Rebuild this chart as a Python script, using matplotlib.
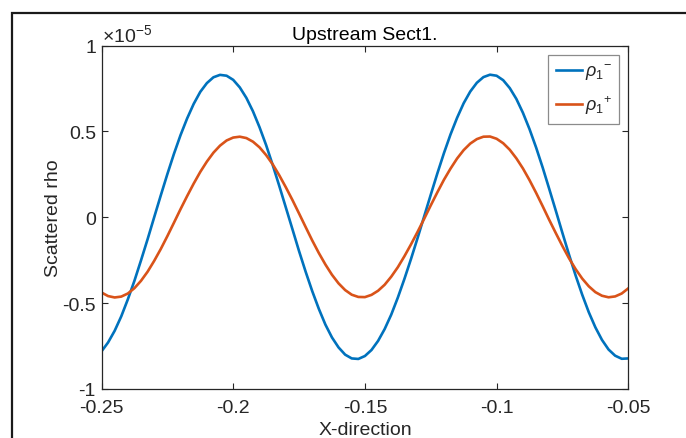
import matplotlib
matplotlib.use("Agg")
import matplotlib.pyplot as plt
from matplotlib.patches import Rectangle
import numpy as np

# ---------------- data ----------------
x_vals = [-0.25, -0.2475, -0.245, -0.2425, -0.24, -0.2375, -0.235, -0.2325, -0.23, -0.2275,
          -0.225, -0.2225, -0.22, -0.2175, -0.215, -0.2125, -0.21, -0.2075, -0.205, -0.2025,
          -0.2, -0.1975, -0.195, -0.1925, -0.19, -0.1875, -0.185, -0.1825, -0.18, -0.1775,
          -0.175, -0.1725, -0.17, -0.1675, -0.165, -0.1625, -0.16, -0.1575, -0.155, -0.1525,
          -0.15, -0.1475, -0.145, -0.1425, -0.14, -0.1375, -0.135, -0.1325, -0.13, -0.1275,
          -0.125, -0.1225, -0.12, -0.1175, -0.115, -0.1125, -0.11, -0.1075, -0.105, -0.1025,
          -0.1, -0.0975, -0.095, -0.0925, -0.09, -0.0875, -0.085, -0.0825, -0.08, -0.0775,
          -0.075, -0.0725, -0.07, -0.0675, -0.065, -0.0625, -0.06, -0.0575, -0.055, -0.0525,
          -0.05]

# values in units of 1e-5
rho_minus = [-0.781, -0.729, -0.661, -0.577, -0.478, -0.370, -0.251, -0.128, 0.000, 0.127,
             0.251, 0.369, 0.478, 0.575, 0.660, 0.730, 0.781, 0.815, 0.829, 0.824,
             0.800, 0.756, 0.695, 0.617, 0.524, 0.420, 0.304, 0.182, 0.056, -0.070,
             -0.197, -0.317, -0.430, -0.533, -0.625, -0.700, -0.758, -0.800, -0.822, -0.825,
             -0.808, -0.773, -0.720, -0.651, -0.567, -0.468, -0.359, -0.243, -0.121, 0.005,
             0.131, 0.255, 0.373, 0.482, 0.579, 0.664, 0.732, 0.783, 0.816, 0.830,
             0.824, 0.798, 0.752, 0.689, 0.608, 0.513, 0.406, 0.289, 0.164, 0.037,
             -0.092, -0.218, -0.339, -0.451, -0.553, -0.641, -0.714, -0.770, -0.806, -0.824,
             -0.822]

rho_plus = [-0.438, -0.459, -0.467, -0.462, -0.444, -0.413, -0.370, -0.317, -0.254, -0.185,
            -0.110, -0.032, 0.047, 0.123, 0.196, 0.264, 0.324, 0.376, 0.417, 0.447,
            0.464, 0.469, 0.461, 0.440, 0.407, 0.362, 0.308, 0.244, 0.174, 0.100,
            0.022, -0.057, -0.135, -0.208, -0.275, -0.335, -0.385, -0.424, -0.451, -0.464,
            -0.465, -0.452, -0.428, -0.393, -0.346, -0.291, -0.227, -0.158, -0.085, -0.009,
            0.069, 0.145, 0.218, 0.283, 0.342, 0.391, 0.429, 0.455, 0.469, 0.470,
            0.457, 0.431, 0.393, 0.343, 0.284, 0.216, 0.142, 0.064, -0.016, -0.093,
            -0.168, -0.239, -0.302, -0.357, -0.402, -0.436, -0.457, -0.466, -0.461, -0.444,
            -0.414]

y_scale = 1e-5
x_ticks = [-0.25, -0.2, -0.15, -0.1, -0.05]
x_tick_labels = ["-0.25", "-0.2", "-0.15", "-0.1", "-0.05"]
y_ticks = [-1, -0.5, 0, 0.5, 1]
y_tick_labels = ["-1", "-0.5", "0", "0.5", "1"]
series_labels = [r"$\rho_{1}{}^{-}$", r"$\rho_{1}{}^{+}$"]

# ---------------- style ----------------
plt.rcParams["font.family"] = ["Liberation Sans", "DejaVu Sans"]
plt.rcParams["mathtext.fontset"] = "custom"
plt.rcParams["mathtext.rm"] = "Liberation Sans"
plt.rcParams["mathtext.it"] = "Liberation Sans:italic"
plt.rcParams["mathtext.sf"] = "Liberation Sans"

AX_COL = "#262626"
BLUE = "#0072BD"
ORANGE = "#D95319"
FS = 14

W, H = 686, 439
fig = plt.figure(figsize=(W / 100, H / 100), dpi=100)
fig.patch.set_facecolor("white")

# figure frame (partly clipped at right/bottom)
frame = Rectangle((11.5 / W, -0.2), 2.0, 1.2 - 13.5 / H, transform=fig.transFigure,
                  fill=False, edgecolor="#1a1a1a", linewidth=1.6, clip_on=False)
fig.add_artist(frame)

ax = fig.add_axes([101.5 / W, 1 - 390 / H, (628.3 - 101.5) / W, (390 - 46.5) / H])

xs = np.array(x_vals)
ax.plot(xs, np.array(rho_minus) * y_scale, color=BLUE, lw=1.9, label=series_labels[0])
ax.plot(xs, np.array(rho_plus) * y_scale, color=ORANGE, lw=1.9, label=series_labels[1])

ax.set_xlim(x_ticks[0], x_ticks[-1])
ax.set_ylim(y_ticks[0] * y_scale, y_ticks[-1] * y_scale)
ax.set_xticks(x_ticks)
ax.set_xticklabels(x_tick_labels)
ax.set_yticks([v * y_scale for v in y_ticks])
ax.set_yticklabels(y_tick_labels)

for s in ax.spines.values():
    s.set_color(AX_COL)
    s.set_linewidth(0.9)
ax.tick_params(direction="in", length=4.3, width=0.8, color=AX_COL, labelcolor=AX_COL,
               labelsize=FS, top=True, right=True)
ax.tick_params(axis="x", pad=7)
ax.tick_params(axis="y", pad=4)

ax.text(0.0, 1.0, r"$\times\mathregular{10^{-5}}$", transform=ax.transAxes,
        fontsize=FS, color=AX_COL, ha="left", va="bottom")

ax.set_title("Upstream Sect1.", fontsize=FS, color="black", pad=5)
ax.set_xlabel("X-direction", fontsize=FS, color=AX_COL, labelpad=4)
ax.set_ylabel("Scattered rho", fontsize=FS, color=AX_COL, labelpad=0)

leg = ax.legend(loc="upper right", fontsize=13, frameon=True, fancybox=False,
                handlelength=1.45, handletextpad=0.15, labelspacing=0.65, borderpad=0.42,
                borderaxespad=0.5)
leg.get_frame().set_edgecolor("#6e6e6e")
leg.get_frame().set_linewidth(0.9)
for t in leg.get_texts():
    t.set_color(AX_COL)

fig.savefig("out.png", dpi=100)
